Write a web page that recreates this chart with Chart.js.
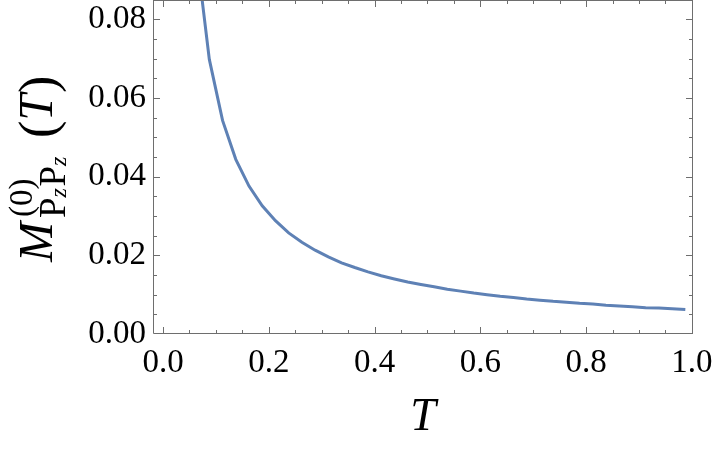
<!DOCTYPE html>
<html>
<head>
<meta charset="utf-8">
<script src="https://cdn.jsdelivr.net/npm/chart.js@4"></script>
<style>
  body { margin: 0; background: #fff; }
  #wrap { width: 714px; height: 456px; position: relative; }
</style>
</head>
<body>
<div id="wrap"><canvas id="plot"></canvas></div>
<script>
// sample temperatures and the curve
const tVals = [0.0375, 0.0625, 0.0875, 0.1125, 0.1375, 0.1625, 0.1875, 0.2125, 0.2375, 0.2625,
  0.2875, 0.3125, 0.3375, 0.3625, 0.3875, 0.4125, 0.4375, 0.4625, 0.4875, 0.5125,
  0.5375, 0.5625, 0.5875, 0.6125, 0.6375, 0.6625, 0.6875, 0.7125, 0.7375, 0.7625,
  0.7875, 0.8125, 0.8375, 0.8625, 0.8875, 0.9125, 0.9375, 0.9625, 0.9875];
const mVals = [0.163, 0.0976, 0.0698, 0.0543, 0.0444, 0.0376, 0.0326, 0.0288, 0.0257, 0.0233,
  0.0213, 0.0196, 0.0181, 0.0169, 0.0158, 0.0148, 0.0140, 0.0132, 0.0126, 0.0120,
  0.0114, 0.0109, 0.0104, 0.0100, 0.0096, 0.0093, 0.0089, 0.0086, 0.0083, 0.0081,
  0.0078, 0.0076, 0.0073, 0.0071, 0.0069, 0.0067, 0.0066, 0.0064, 0.0062];

const xTicks = [0, 0.2, 0.4, 0.6, 0.8, 1.0];
const yTicks = [0, 0.02, 0.04, 0.06, 0.08];

const serif = '"Liberation Serif", "Times New Roman", serif';
const frameColor = "#6e6e6e";

// Mathematica-style frame with inward ticks on all four sides
const framePlugin = {
  id: "frame",
  afterDatasetsDraw(chart) {
    const { ctx, chartArea: a, scales } = chart;
    const xs = scales.x, ys = scales.y;
    ctx.save();
    ctx.strokeStyle = frameColor;
    ctx.lineWidth = 1;
    ctx.beginPath();
    ctx.rect(a.left + 0.5, a.top + 0.5, a.right - a.left - 1, a.bottom - a.top - 1);
    ctx.stroke();
    ctx.beginPath();
    for (let i = 0; i <= 20; i++) {
      const v = i * 0.05;
      const len = i % 4 === 0 ? 7 : 4;
      const px = Math.round(xs.getPixelForValue(v)) + 0.5;
      if (px < a.left || px > a.right) continue;
      ctx.moveTo(px, a.bottom); ctx.lineTo(px, a.bottom - len);
      ctx.moveTo(px, a.top); ctx.lineTo(px, a.top + len);
    }
    for (let i = 0; i <= 17; i++) {
      const v = i * 0.005;
      const len = i % 4 === 0 ? 7 : 4;
      const py = Math.round(ys.getPixelForValue(v)) + 0.5;
      if (py < a.top || py > a.bottom) continue;
      ctx.moveTo(a.left, py); ctx.lineTo(a.left + len, py);
      ctx.moveTo(a.right, py); ctx.lineTo(a.right - len, py);
    }
    ctx.stroke();
    ctx.restore();
  },
};

// y axis label: M^(0)_{PzPz}(T), rotated
const yLabelPlugin = {
  id: "yLabel",
  afterDraw(chart) {
    const ctx = chart.ctx;
    ctx.save();
    ctx.translate(52, 262);
    ctx.rotate(-Math.PI / 2);
    ctx.fillStyle = "#000";
    ctx.textBaseline = "alphabetic";
    ctx.textAlign = "left";
    ctx.font = "italic 48px " + serif;
    ctx.fillText("M", 0, 0);
    ctx.font = "33px " + serif;
    ctx.fillText("(0)", 45, -20);
    let x = 44;
    for (let k = 0; k < 2; k++) {
      ctx.font = "37px " + serif;
      ctx.fillText("P", x, 13);
      x += ctx.measureText("P").width;
      ctx.font = "italic 24px " + serif;
      ctx.fillText("z", x, 14);
      x += ctx.measureText("z").width + 1.5;
    }
    x = 124;
    ctx.font = "52px " + serif;
    ctx.fillText("(", x, 3);
    x += ctx.measureText("(").width;
    ctx.font = "italic 48px " + serif;
    ctx.fillText("T", x, 0);
    x += ctx.measureText("T").width + 1;
    ctx.font = "52px " + serif;
    ctx.fillText(")", x, 3);
    ctx.restore();
  },
};

new Chart(document.getElementById("plot"), {
  type: "line",
  data: {
    datasets: [
      {
        data: tVals.map((t, i) => ({ x: t, y: mVals[i] })),
        borderColor: "#5e81b5",
        borderWidth: 3,
        pointRadius: 0,
        tension: 0,
        fill: false,
        clip: 0,
      },
    ],
  },
  options: {
    responsive: true,
    maintainAspectRatio: false,
    animation: false,
    layout: { padding: { top: 0, right: 21, left: 0, bottom: 0 } },
    plugins: { legend: { display: false }, tooltip: { enabled: false } },
    scales: {
      x: {
        type: "linear",
        min: -0.019,
        max: 1.002,
        grid: { display: false, drawTicks: false },
        border: { display: false },
        afterBuildTicks: (s) => { s.ticks = xTicks.map((v) => ({ value: v })); },
        afterFit: (s) => {
          s.height = 122;
          s.paddingLeft = 0;
          s.paddingRight = 0;
        },
        ticks: {
          color: "#000",
          font: { family: serif, size: 33 },
          padding: 10,
          maxRotation: 0,
          callback: (v) => v.toFixed(1),
        },
        title: {
          display: true,
          text: "T",
          color: "#000",
          font: { family: serif, size: 46, style: "italic" },
          padding: { top: 0, bottom: 10 },
        },
      },
      y: {
        type: "linear",
        min: 0,
        max: 0.0849,
        grid: { display: false, drawTicks: false },
        border: { display: false },
        afterBuildTicks: (s) => { s.ticks = yTicks.map((v) => ({ value: v })); },
        afterFit: (s) => {
          s.width = 153;
          s.paddingTop = 0;
          s.paddingBottom = 0;
        },
        ticks: {
          color: "#000",
          font: { family: serif, size: 33 },
          padding: 7,
          callback: (v) => v.toFixed(2),
        },
      },
    },
  },
  plugins: [framePlugin, yLabelPlugin],
});
</script>
</body>
</html>
